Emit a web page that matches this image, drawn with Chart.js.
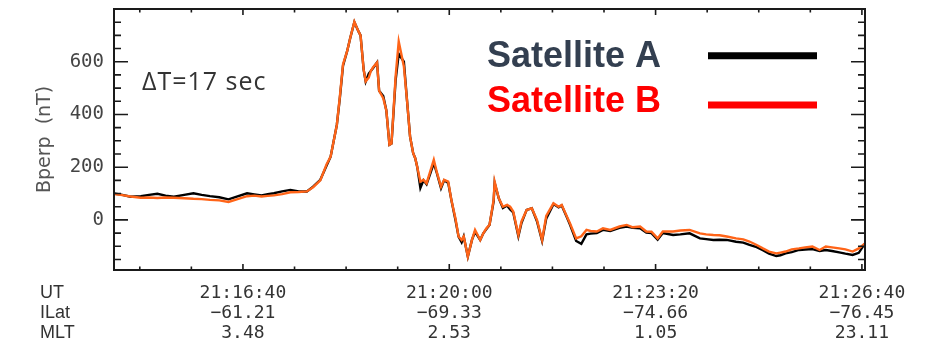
<!DOCTYPE html>
<html>
<head>
<meta charset="utf-8">
<script src="https://cdn.jsdelivr.net/npm/chart.js@4.4.1/dist/chart.umd.min.js"></script>
<style>
  html, body { margin: 0; padding: 0; background: #ffffff; }
  #wrap { position: relative; width: 925px; height: 344px; }
</style>
</head>
<body>
<div id="wrap"><canvas id="c" width="925" height="344"></canvas></div>
<script>
// Seconds elapsed from 21:16:40 UT
const elapsedSec = [
  -125, -117, -109, -99, -91, -83, -75, -67, -57, -48, -40, -32, -23, -14, -6,
  4, 11, 18, 24, 30, 38, 46, 54, 62, 68, 75, 81, 85, 88, 91, 94, 97, 101, 104,
  108, 112, 114, 117, 119, 122, 124, 126, 130, 132, 136, 139, 142, 144, 148, 151,
  156, 159, 162, 165, 167, 169, 172, 175, 178, 182, 185, 188, 192, 195, 199, 202,
  206, 209, 212, 214, 218, 222, 225, 230, 233, 236, 239, 243, 244, 248, 252, 256,
  259, 262, 267, 270, 275, 280, 285, 290, 294, 301, 306, 309, 314, 317, 323, 328,
  333, 337, 343, 349, 356, 365, 372, 378, 385, 391, 396, 402, 407, 417, 424, 433,
  443, 449, 456, 462, 469, 478, 485, 491, 498, 504, 510, 517, 521, 526, 532, 539,
  545, 552, 559, 565, 571, 578, 584, 591, 597, 603
];

// Bperp (nT), Satellite A
const bperpA = [
  100, 95, 88, 90, 95, 99, 92, 88, 95, 101, 95, 90, 86, 78, 88,
  101, 97, 93, 98, 101, 108, 114, 108, 108, 126, 152, 205, 240, 300, 360, 465, 585, 640, 690,
  750, 715, 700, 570, 525, 555, 565, 575, 597, 490, 470, 415, 285, 290, 530, 630,
  600, 455, 316, 253, 234, 200, 121, 150, 135, 180, 215, 177, 120, 150, 140, 76,
  0, -63, -85, -63, -139, -76, -45, -76, -51, -35, -19, 70, 140, 82, 45, 55,
  40, 28, -62, -12, 38, 44, -5, -80, 5, 60, 48, 55, 10, -18, -80, -91,
  -55, -52, -50, -38, -42, -30, -25, -30, -32, -48, -50, -75, -50, -57, -55, -51,
  -70, -73, -76, -75, -76, -83, -86, -95, -103, -115, -128, -137, -134, -127, -122, -114,
  -112, -111, -118, -114, -118, -123, -128, -133, -125, -89
];

// Bperp (nT), Satellite B
const bperpB = [
  98, 94, 89, 84, 85, 83, 85, 84, 82, 80, 79, 76, 74, 68, 78,
  90, 92, 89, 91, 93, 98, 105, 106, 108, 124, 150, 210, 240, 300, 360, 470, 590, 640, 690,
  752, 715, 700, 570, 525, 540, 565, 578, 597, 490, 462, 415, 285, 290, 545, 677,
  582, 455, 316, 253, 234, 200, 145, 152, 139, 190, 228, 180, 126, 152, 145, 76,
  5, -63, -76, -63, -139, -76, -38, -76, -51, -32, -19, 76, 145, 82, 50, 57,
  50, 32, -57, -6, 38, 44, 0, -76, 15, 63, 50, 57, 13, -13, -70, -62,
  -38, -42, -44, -32, -38, -25, -19, -28, -25, -44, -45, -70, -44, -44, -40, -38,
  -51, -55, -57, -58, -63, -70, -74, -82, -95, -108, -120, -127, -124, -120, -112, -108,
  -104, -101, -114, -101, -104, -108, -112, -120, -108, -89
];

// Orbit annotation rows under the time axis
const utLabels = ['21:16:40', '21:20:00', '21:23:20', '21:26:40'];
const ilatLabels = ['\u221261.21', '\u221269.33', '\u221274.66', '\u221276.45'];
const mltLabels = ['3.48', '2.53', '1.05', '23.11'];
const rowNames = ['UT', 'ILat', 'MLT'];

const yTickLabels = [0, 200, 400, 600];
const seriesNames = ['Satellite A', 'Satellite B'];
const deltaLabel = '\u0394T=17 sec';

const lineColors = ['#000000', '#ff6418'];
const legendTextColors = ['#333f50', '#ff0000'];
const legendLineColors = ['#000000', '#ff0000'];

function range(a, b, step) {
  const out = [];
  for (let v = a; v <= b + 1e-9; v += step) out.push(v);
  return out;
}

// Frame, inward IDL-style ticks, legend and annotations
const decorations = {
  id: 'decorations',
  afterDatasetsDraw(chart) {
    const ctx = chart.ctx;
    const a = chart.chartArea;
    const xs = chart.scales.x, ys = chart.scales.y;
    ctx.save();

    ctx.strokeStyle = '#1a1a1a';
    ctx.lineWidth = 2;
    ctx.strokeRect(a.left, a.top, a.right - a.left, a.bottom - a.top);

    ctx.lineWidth = 1.6;
    ctx.beginPath();
    ys.ticks.forEach(t => {
      const p = ys.getPixelForValue(t.value);
      if (p < a.top + 1 || p > a.bottom - 1) return;
      const len = (t.value % 200 === 0) ? 14 : 7;
      ctx.moveTo(a.left, p); ctx.lineTo(a.left + len, p);
      ctx.moveTo(a.right, p); ctx.lineTo(a.right - len, p);
    });
    xs.ticks.forEach(t => {
      const p = xs.getPixelForValue(t.value);
      const len = (t.value % 200 === 0) ? 6 : 3.5;
      ctx.moveTo(p, a.bottom); ctx.lineTo(p, a.bottom - len);
      ctx.moveTo(p, a.top); ctx.lineTo(p, a.top + len);
    });
    ctx.stroke();

    // row names for the multi-line time axis labels
    ctx.fillStyle = '#333333';
    ctx.font = '18px "Liberation Sans", Arial, sans-serif';
    ctx.textAlign = 'left';
    ctx.textBaseline = 'middle';
    rowNames.forEach((n, i) => ctx.fillText(n, 40, 293 + i * 20));

    // time lag note
    ctx.fillStyle = '#333333';
    ctx.font = '25px "Open Sans", "DejaVu Sans", sans-serif';
    ctx.textBaseline = 'alphabetic';
    if ('letterSpacing' in ctx) ctx.letterSpacing = '1px';
    ctx.fillText(deltaLabel, 142, 90);
    if ('letterSpacing' in ctx) ctx.letterSpacing = '0px';

    // legend
    ctx.font = 'bold 36px "Liberation Sans", Arial, sans-serif';
    const baselines = [66.5, 111.5];
    const lineYs = [55.7, 105];
    seriesNames.forEach((n, i) => {
      ctx.fillStyle = legendTextColors[i];
      ctx.fillText(n, 487, baselines[i]);
      ctx.strokeStyle = legendLineColors[i];
      ctx.lineWidth = 7;
      ctx.beginPath();
      ctx.moveTo(708, lineYs[i]);
      ctx.lineTo(817, lineYs[i]);
      ctx.stroke();
    });
    ctx.restore();
  }
};

new Chart(document.getElementById('c'), {
  type: 'line',
  data: {
    datasets: [
      {
        label: seriesNames[0],
        data: elapsedSec.map((t, i) => ({ x: t, y: bperpA[i] })),
        borderColor: lineColors[0],
        borderWidth: 2.4,
        pointRadius: 0,
        tension: 0,
        order: 1
      },
      {
        label: seriesNames[1],
        data: elapsedSec.map((t, i) => ({ x: t, y: bperpB[i] })),
        borderColor: lineColors[1],
        borderWidth: 2.4,
        pointRadius: 0,
        tension: 0,
        order: 0
      }
    ]
  },
  options: {
    responsive: false,
    animation: false,
    devicePixelRatio: 1,
    layout: { padding: { top: 9, right: 60, left: 0, bottom: 0 } },
    plugins: { legend: { display: false }, tooltip: { enabled: false } },
    scales: {
      x: {
        type: 'linear',
        position: 'bottom',
        min: -125,
        max: 603,
        afterBuildTicks: s => { s.ticks = range(-100, 600, 50).map(v => ({ value: v })); },
        afterFit: s => { s.height = 74; s.paddingLeft = 0; s.paddingRight = 0; },
        grid: { display: false, drawTicks: false },
        border: { display: false },
        ticks: {
          autoSkip: false,
          maxRotation: 0,
          padding: 13,
          color: '#333333',
          font: { family: '"DejaVu Sans Mono", monospace', size: 18, lineHeight: 20 / 18 },
          callback: v => {
            if (v % 200 !== 0) return '';
            const k = v / 200;
            return [utLabels[k], ilatLabels[k], mltLabels[k]];
          }
        }
      },
      y: {
        min: -190,
        max: 800,
        afterBuildTicks: s => { s.ticks = range(-150, 800, 50).map(v => ({ value: v })); },
        afterFit: s => { s.width = 114; s.paddingTop = 0; s.paddingBottom = 0; },
        grid: { display: false, drawTicks: false },
        border: { display: false },
        ticks: {
          autoSkip: false,
          padding: 10,
          color: '#444444',
          font: { family: '"DejaVu Sans Mono", monospace', size: 19 },
          callback: v => (yTickLabels.includes(v) ? String(v) : '')
        },
        title: {
          display: true,
          text: 'Bperp  (nT)',
          color: '#555555',
          font: { family: '"DejaVu Sans", sans-serif', size: 19 },
          padding: { top: 34, bottom: 0 }
        }
      }
    }
  },
  plugins: [decorations]
});
</script>
</body>
</html>
